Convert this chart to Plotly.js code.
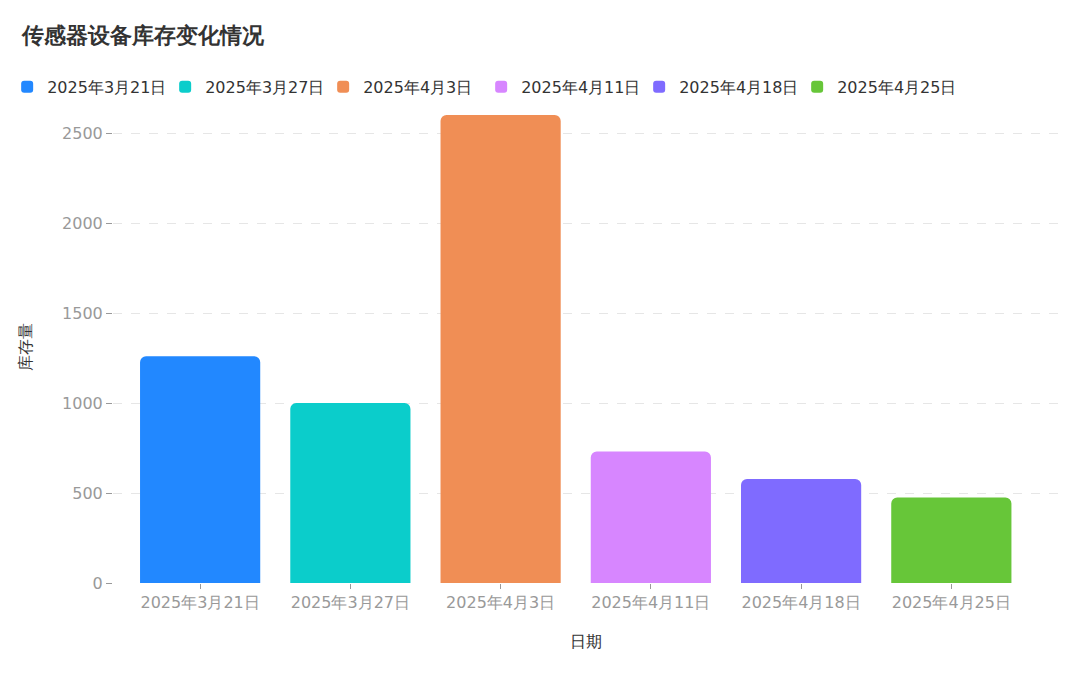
<!DOCTYPE html>
<html>
<head>
<meta charset="utf-8">
<script src="https://cdn.plot.ly/plotly-3.0.1.min.js"></script>
<style>
  html, body { margin: 0; padding: 0; background: #fff; }
  #chart { width: 1080px; height: 675px; }
</style>
</head>
<body>
<div id="chart"></div>
<script>
// dates and stock counts
const dates = ['2025年3月21日', '2025年3月27日', '2025年4月3日', '2025年4月11日', '2025年4月18日', '2025年4月25日'];
const stock = [1260, 1000, 2600, 730, 578, 475];
const barColors = ['#2288FF', '#0BCDCB', '#F08E55', '#D786FF', '#7F6BFF', '#67C639'];

const fontFamily = 'DejaVu Sans';

// one trace per date so each gets its own legend entry
let data = dates.map(function (d, i) {
    return {
        type: 'bar',
        name: d,
        x: [d],
        y: [stock[i]],
        width: 0.8,
        marker: { color: barColors[i], cornerradius: 6 },
        hoverinfo: 'x+y'
    };
});

let layout = {
    width: 1080,
    height: 675,
    paper_bgcolor: '#fff',
    plot_bgcolor: '#fff',
    font: { family: fontFamily, size: 16, color: '#333' },
    title: {
        text: '<b>传感器设备库存变化情况</b>',
        x: 0.02, xanchor: 'left',
        y: 0.947, yanchor: 'middle',
        font: { size: 22, color: '#333', family: fontFamily }
    },
    barmode: 'overlay',
    showlegend: true,
    legend: {
        orientation: 'h',
        x: -0.112, xanchor: 'left',
        y: 1.049, yanchor: 'middle',
        font: { size: 16, color: '#333', family: fontFamily },
        traceorder: 'normal',
        entrywidth: 113,
        entrywidthmode: 'pixels'
    },
    margin: { l: 113, r: 22, t: 110, b: 92, autoexpand: false },
    xaxis: {
        type: 'category',
        categoryorder: 'array',
        categoryarray: dates,
        range: [-0.58, 5.71],
        ticks: 'outside',
        ticklen: 5,
        tickcolor: '#999',
        tickfont: { size: 16, color: '#999', family: fontFamily },
        showgrid: false,
        showline: false,
        zeroline: false,
        title: { text: '日期', font: { size: 16, color: '#333', family: fontFamily }, standoff: 24 }
    },
    yaxis: {
        range: [0, 2628],
        tickvals: [0, 500, 1000, 1500, 2000, 2500],
        ticks: 'outside',
        ticklen: 6,
        tickcolor: '#999',
        tickfont: { size: 16, color: '#999', family: fontFamily },
        showgrid: true,
        gridcolor: '#e6e6e6',
        griddash: 'dash',
        zeroline: false,
        showline: false,
        title: { text: '库存量', font: { size: 16, color: '#333', family: fontFamily }, standoff: 26 }
    }
};

Plotly.newPlot('chart', data, layout, { displayModeBar: false, responsive: false });
</script>
</body>
</html>
